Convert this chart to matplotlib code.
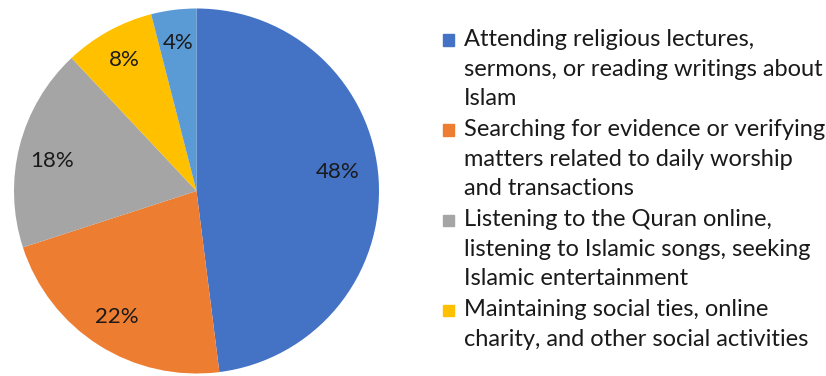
import numpy as np
import matplotlib.pyplot as plt
from matplotlib.patches import Rectangle

# data
categories = [
    "Attending religious lectures,\nsermons, or reading writings about\nIslam",
    "Searching for evidence or verifying\nmatters related to daily worship\nand transactions",
    "Listening to the Quran online,\nlistening to Islamic songs, seeking\nIslamic entertainment",
    "Maintaining social ties, online\ncharity, and other social activities",
    "Other",
]
shares = [48, 22, 18, 8, 4]
colors = ["#4472C4", "#ED7D31", "#A5A5A5", "#FFC000", "#5B9BD5"]

plt.rcParams["font.family"] = ["Lato", "DejaVu Sans"]

W, H = 826, 376
fig = plt.figure(figsize=(W / 100, H / 100), dpi=100)

# pie area (centre ~ (196, 191) px, radius ~182 px)
r = 182.5
cx, cy = 196.5, H - 191
ax = fig.add_axes([(cx - r) / W, (cy - r) / H, 2 * r / W, 2 * r / H])
wedges, texts, autotexts = ax.pie(
    shares, colors=colors, startangle=90, counterclock=False,
    autopct="%d%%", pctdistance=0.82, radius=1,
    wedgeprops=dict(linewidth=0),
    textprops=dict(fontsize=16, color="#1a1a1a"),
)
# excel's best-fit nudges for the big slice and the grey one
for k, (dang, dist) in {0: (4, 0.78), 2: (2.5, 0.81)}.items():
    w = wedges[k]
    a = np.deg2rad((w.theta1 + w.theta2) / 2 + dang)
    autotexts[k].set_position((dist * np.cos(a), dist * np.sin(a)))
ax.set_xlim(-1, 1)
ax.set_ylim(-1, 1)
ax.set_aspect("equal")
ax.axis("off")

# legend (first four entries visible)
line_h = 30
y_top = 40
for i in range(4):
    n_lines = categories[i].count("\n") + 1
    y = H - y_top
    fig.patches.append(Rectangle((443 / W, (y - 5.5) / H), 11 / W, 11 / H,
                                 transform=fig.transFigure, color=colors[i]))
    fig.text(464 / W, (y + 11) / H, categories[i], fontsize=17, color="#1a1a1a",
             va="top", ha="left", linespacing=1.5)
    y_top += n_lines * line_h

fig.savefig("out.png", dpi=100)
